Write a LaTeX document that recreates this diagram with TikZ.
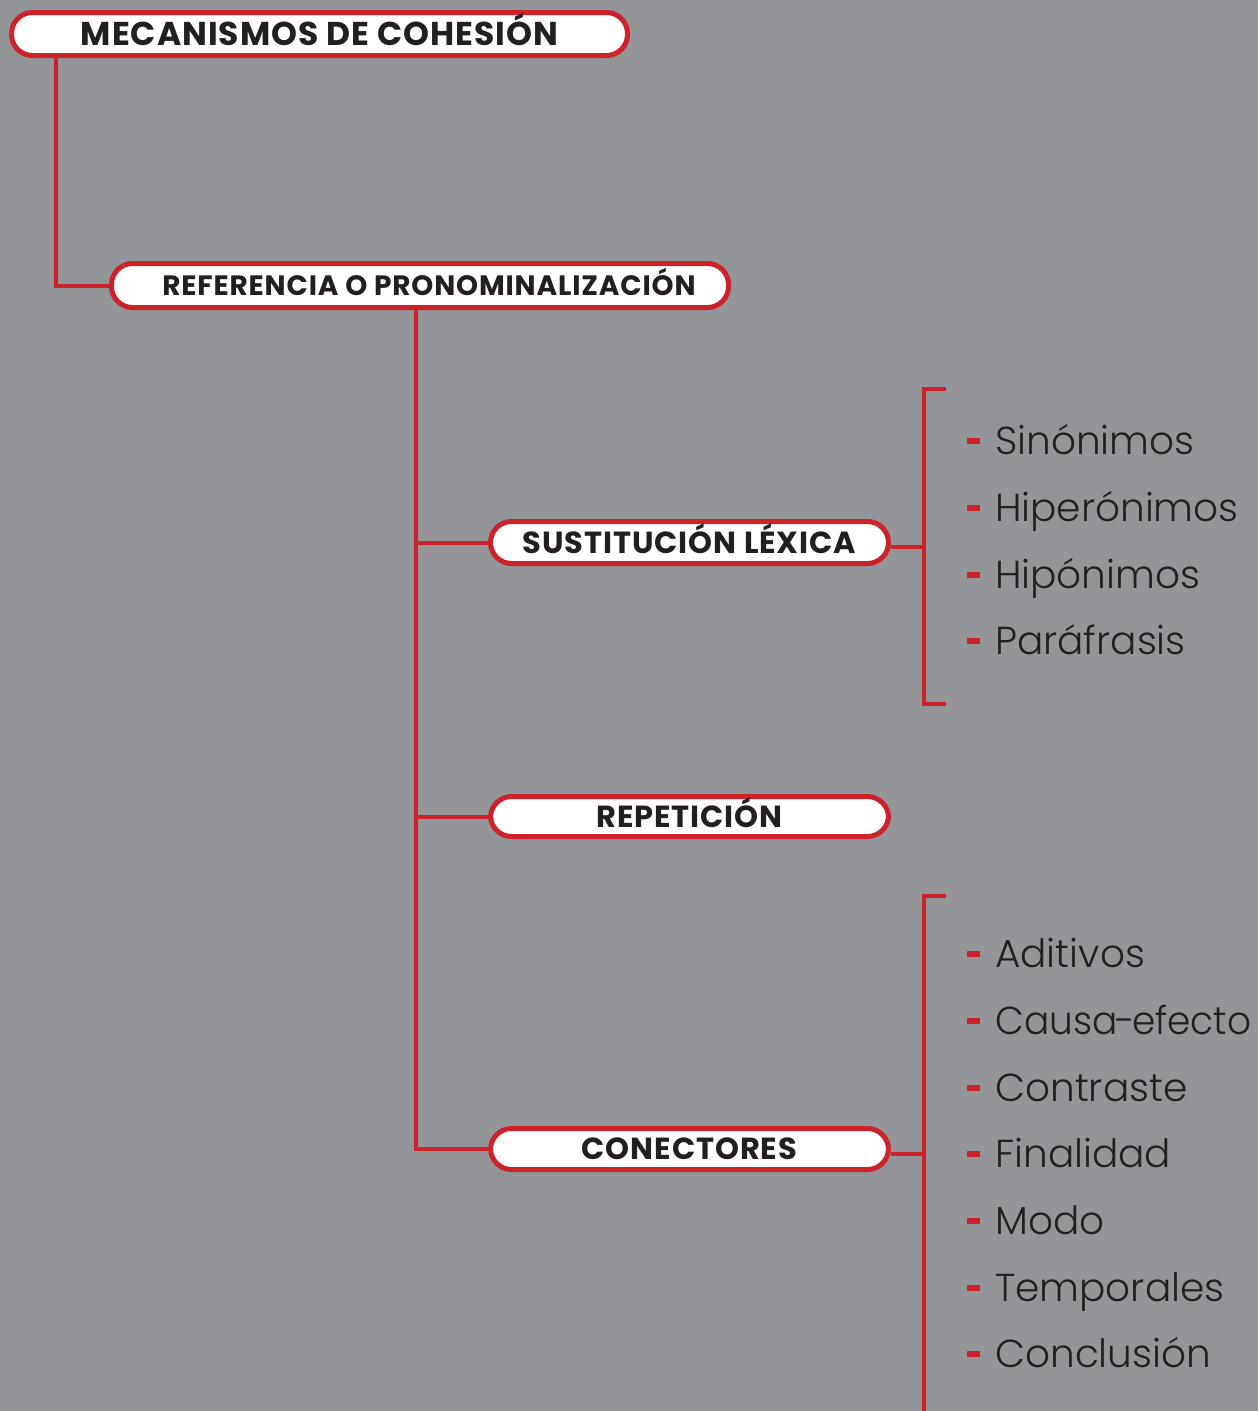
\documentclass[tikz,border=0pt]{standalone}
\usepackage{fontspec}
\setmainfont{Poppins}
\newfontfamily\lightfont{Poppins Light}
\newfontfamily\boxfont{Poppins}[LetterSpace=3]
\definecolor{bg}{RGB}{147,149,152}
\definecolor{rd}{RGB}{204,35,43}
\definecolor{ink}{RGB}{35,31,32}
\begin{document}
\begin{tikzpicture}[x=1pt,y=-1pt,
  box/.style={draw=rd, line width=5pt, fill=white, rounded corners=21pt, inner sep=0pt, text=ink, text depth=0pt},
  link/.style={draw=rd, line width=4pt},
  item/.style={anchor=base west, inner sep=0pt, text=ink, font=\lightfont\fontsize{39}{39}\selectfont},
  bigtxt/.style={font=\boxfont\bfseries\fontsize{33}{33}\selectfont, text height=23pt},
  midtxt/.style={font=\boxfont\bfseries\fontsize{28}{28}\selectfont, text height=19.5pt},
  subtxt/.style={font=\boxfont\bfseries\fontsize{30.5}{30.5}\selectfont, text height=21pt}]
\fill[bg] (0,0) rectangle (1258,1411);
\useasboundingbox (0,0) rectangle (1258,1411);
% coordinates
\coordinate (c1) at (56,285.5);
\coordinate (t) at (416,320);
\coordinate (b1t) at (924,389);
\coordinate (b1b) at (924,704);
\coordinate (b1tt) at (946,389);
\coordinate (b1bt) at (946,704);
\coordinate (b2t) at (924,896);
\coordinate (b2b) at (924,1416);
\coordinate (b2tt) at (946,896);
% boxes
\node[box, bigtxt, minimum width=616pt, minimum height=43pt] (m) at (319.5,34) {MECANISMOS DE COHESIÓN};
\node[box, midtxt, minimum width=617pt, minimum height=44pt] (r) at (420,285.5) {\hspace*{18pt}REFERENCIA O PRONOMINALIZACIÓN};
\node[box, subtxt, minimum width=398pt, minimum height=42pt] (s) at (689.5,542.5) {SUSTITUCIÓN LÉXICA};
\node[box, subtxt, minimum width=398pt, minimum height=40pt] (p) at (689.5,816.5) {REPETICIÓN};
\node[box, subtxt, minimum width=398pt, minimum height=41pt] (c) at (689.5,1149) {CONECTORES};
% connectors
\draw[link] (m.south -| c1) -- (c1) -- (r.west);
\draw[link] (r.south -| t) -- (t |- c.west) -- (c.west);
\draw[link] (t |- s.west) -- (s.west);
\draw[link] (t |- p.west) -- (p.west);
\draw[link] ([yshift=-4.5pt]s.east) -- ([yshift=-4.5pt]s.east -| b1t);
\draw[link] (b1tt) -- (b1t) -- (b1b) -- (b1bt);
\draw[link] ([yshift=-5pt]c.east) -- ([yshift=-5pt]c.east -| b2t);
\draw[link] (b2tt) -- (b2t) -- (b2b);
% items
\foreach \txt/\yy [count=\i] in {Sinónimos/454,Hiperónimos/521,Hipónimos/588,Paráfrasis/654}{
  \node[item] (a\i) at (995,\yy) {\txt};
  \fill[rd] (967,\yy-16) rectangle (980,\yy-10);
}
\foreach \txt/\yy [count=\i] in {Aditivos/967,\scalebox{0.96}[1]{Causa\kern-2.5pt-\kern-2.5pt efecto}/1034,Contraste/1101,Finalidad/1167,Modo/1234,Temporales/1301,Conclusión/1367}{
  \node[item] (k\i) at (995,\yy) {\txt};
  \fill[rd] (967,\yy-16) rectangle (980,\yy-10);
}
\end{tikzpicture}
\end{document}
